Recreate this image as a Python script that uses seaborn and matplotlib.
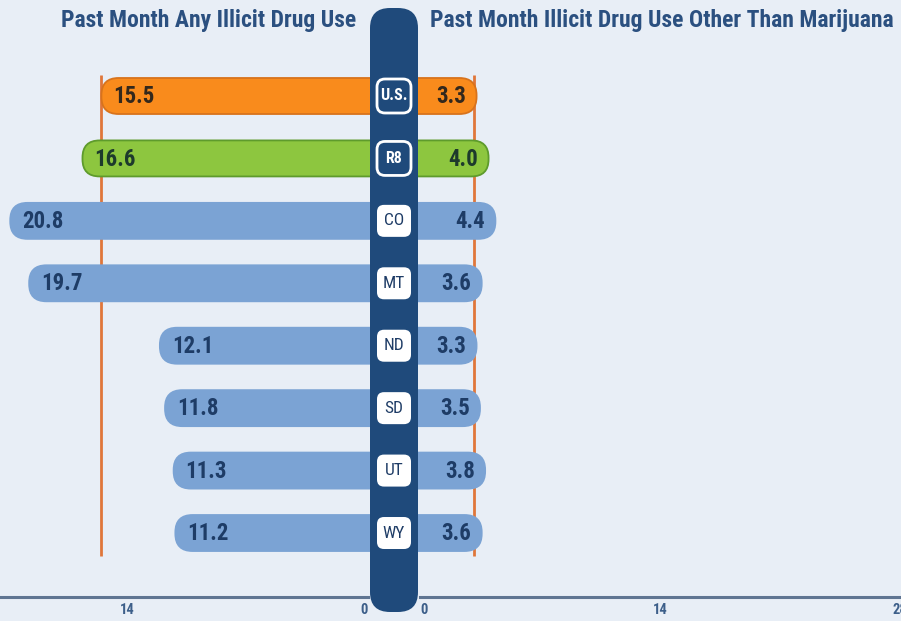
import matplotlib
matplotlib.use('Agg')
import matplotlib.pyplot as plt
import seaborn as sns
import pandas as pd
from matplotlib.patches import FancyBboxPatch

# ---------------- data ----------------
regions = ['U.S.', 'R8', 'CO', 'MT', 'ND', 'SD', 'UT', 'WY']
any_use = [15.5, 16.6, 20.8, 19.7, 12.1, 11.8, 11.3, 11.2]
other_use = [3.3, 4.0, 4.4, 3.6, 3.3, 3.5, 3.8, 3.6]
left_ticks = [0, 14]
right_ticks = [0, 14, 28]
left_title = 'Past Month Any Illicit Drug Use'
right_title = 'Past Month Illicit Drug Use Other Than Marijuana'

# ---------------- style ----------------
sns.set_theme(style='white')
FONT = ['Roboto Condensed', 'Barlow Semi Condensed', 'Barlow Condensed', 'DejaVu Sans']
plt.rcParams['font.family'] = FONT

BG = '#e8eef6'
NAVY = '#1f4a7b'
TXT = '#1e3c66'
ORANGE = '#f98b1c'
GREEN = '#8dc63f'
BLUE = '#7ba3d4'
bar_colors = [ORANGE, GREEN] + [BLUE] * 6
edge_colors = ['#d8731c', '#5e9b2c'] + [BLUE] * 6
val_colors = ['#33281c', '#1d3a2c'] + [TXT] * 6

W, H = 901, 621
fig = plt.figure(figsize=(W / 100, H / 100), dpi=100)
fig.patch.set_facecolor(BG)

axis_y = 597          # px from top of bottom axis line
row0, row_step = 96, 62.43
ylim = ((axis_y - row0) / row_step, -row0 / row_step)

left_zero, ppu_l = 368, 17.2
right_zero, ppu_r = 420, 17.14

axL = fig.add_axes([0, (H - axis_y) / H, left_zero / W, axis_y / H])
axR = fig.add_axes([right_zero / W, (H - axis_y) / H, (W - right_zero) / W, axis_y / H])

df = pd.DataFrame({'region': regions, 'any': any_use, 'other': other_use})

bar_h = 0.577
for ax, col in [(axL, 'any'), (axR, 'other')]:
    sns.barplot(data=df, x=col, y='region', hue='region', palette=bar_colors,
                order=regions, hue_order=regions, width=bar_h, legend=False,
                saturation=1, ax=ax, orient='h')
    ax.set_facecolor(BG)
    ax.patch.set_alpha(0)
    ax.set_ylim(*ylim)
    ax.set_xlabel('')
    ax.set_ylabel('')
    ax.set_yticks([])
    for s in ['top', 'left', 'right']:
        ax.spines[s].set_visible(False)
    ax.spines['bottom'].set_color('#5f7592')
    ax.spines['bottom'].set_linewidth(2.2)

axL.set_xlim(left_zero / ppu_l, 0)
axR.set_xlim(0, (W - right_zero) / ppu_r)

# replace bars with rounded versions
def roundify(ax, ppu):
    aspect = (1 / row_step) / (1 / ppu)
    for p in list(ax.patches):
        yc = p.get_y() + p.get_height() / 2
        i = int(round(yc))
        w = p.get_width()
        fc = p.get_facecolor()
        p.remove()
        inner = -1.6
        box = FancyBboxPatch((inner, yc - bar_h / 2), w - inner, bar_h,
                             boxstyle='round,pad=0,rounding_size=1.0',
                             mutation_aspect=aspect, facecolor=fc,
                             edgecolor=edge_colors[i], linewidth=1.3,
                             zorder=3, clip_on=False)
        ax.add_patch(box)

roundify(axL, ppu_l)
roundify(axR, ppu_r)

# US reference lines
us_any, us_other = any_use[0], other_use[0]
axL.vlines(us_any + 0.05, 0 - 0.34, len(regions) - 1 + 0.37, color='#e0763a', lw=2, zorder=2)
axR.vlines(us_other - 0.15, 0 - 0.34, len(regions) - 1 + 0.37, color='#e0763a', lw=2, zorder=2)

# value labels
for i, v in enumerate(any_use):
    axL.text(v - 0.7, i + 0.01, f'{v:.1f}', ha='left', va='center', fontsize=16.5,
             fontweight='bold', color=val_colors[i], zorder=5, family=FONT)
for i, v in enumerate(other_use):
    axR.text(v - 0.6, i + 0.01, f'{v:.1f}', ha='right', va='center', fontsize=16.5,
             fontweight='bold', color=val_colors[i], zorder=5, family=FONT)

# ticks
for ax, ticks in [(axL, left_ticks), (axR, right_ticks)]:
    ax.set_xticks(ticks)
    ax.set_xticklabels([str(t) for t in ticks])
    ax.tick_params(axis='x', length=0, pad=4, labelsize=10.5, labelcolor='#3d5f8a')
    for lab in ax.get_xticklabels():
        lab.set_fontweight('bold')
        lab.set_family(FONT)
axL.get_xticklabels()[0].set_horizontalalignment('right')
axR.get_xticklabels()[0].set_horizontalalignment('left')

# overlay (pixel coordinates) for central pill and labels
ov = fig.add_axes([0, 0, 1, 1])
ov.set_xlim(0, W)
ov.set_ylim(H, 0)
ov.axis('off')
ov.patch.set_alpha(0)

pill = FancyBboxPatch((370, 8), 48, 604, boxstyle='round,pad=0,rounding_size=20',
                      facecolor=NAVY, edgecolor='none', zorder=1)
ov.add_patch(pill)

inv = ov.transData.inverted()
for i, r in enumerate(regions):
    yc = inv.transform(axL.transData.transform((0, i)))[1]
    if i < 2:
        bw, bh = 34, 34
        ov.add_patch(FancyBboxPatch((394 - bw / 2, yc - bh / 2), bw, bh,
                                    boxstyle='round,pad=0,rounding_size=8',
                                    facecolor=NAVY, edgecolor='white', lw=2, zorder=2))
        ov.text(394, yc, r, ha='center', va='center', color='white',
                fontsize=11.5, fontweight='bold', zorder=3, family=FONT)
    else:
        bw, bh = 34, 32
        ov.add_patch(FancyBboxPatch((394 - bw / 2, yc - bh / 2), bw, bh,
                                    boxstyle='round,pad=0,rounding_size=7',
                                    facecolor='white', edgecolor='none', zorder=2))
        ov.text(394, yc, r, ha='center', va='center', color=TXT,
                fontsize=12.5, fontweight='normal', zorder=3, family=FONT)

# titles
ov.text(356, 21, left_title, ha='right', va='center', fontsize=17, fontweight='bold',
        color='#2b5080', family=FONT)
ov.text(430, 21, right_title, ha='left', va='center', fontsize=17, fontweight='bold',
        color='#2b5080', family=FONT)

fig.savefig('out.png', dpi=100, facecolor=BG)
